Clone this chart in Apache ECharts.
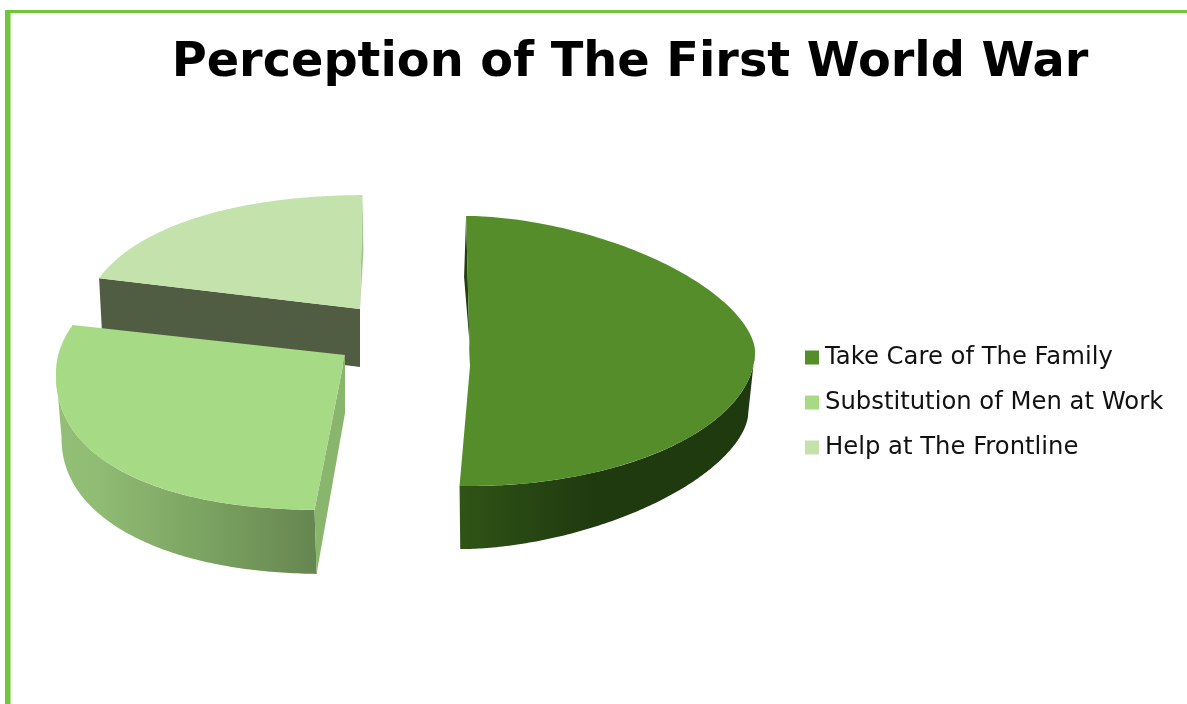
<!DOCTYPE html>
<html>
<head>
<meta charset="utf-8">
<style>html,body{margin:0;padding:0;background:#fff}#c{width:1187px;height:704px}</style>
<script src="https://cdn.jsdelivr.net/npm/echarts@6/dist/echarts.min.js"></script>
</head>
<body>
<div id="c"></div>
<script>
const titleText = 'Perception of The First World War';
const categories = ['Take Care of The Family', 'Substitution of Men at Work', 'Help at The Frontline'];
const shares = [51, 30, 19];
const topColors = ['#558d2a', '#a6da85', '#c4e2ab'];

const START_DEG = -1.5;
const total = shares.reduce((a, b) => a + b, 0);
// pBack / pFront / pBottom: roundness of the rim behind, in front of, and under the slice
const layouts = [
  { cx: 470, cy: 351, rx: 285, ry: 135, ax: 470, ay: 366, depth: 63, z: 3, pBack: 1.7, pFront: 2, pBottom: 1.7,
    bdx: -4, bScale: 0.99,
    wall: [[0, '#203a10'], [0.55, '#203a10'], [1, '#2f5416']], reverse: true,
    cuts: [{ side: 'start', outer: 61, apex: -5, adx: 1, odx: -2, color: '#223f10' }] },
  { cx: 330, cy: 372.4, rx: 274, ry: 137.6, ax: 345, ay: 355, depth: 64, z: 2, pBack: 2, pFront: 2.3, pBottom: 2.2,
    bdx: 0, bScale: 0.98,
    wall: [[0, '#92be76'], [0.15, '#90bc74'], [0.55, '#7ca462'], [1, '#668650']], reverse: false,
    cuts: [{ side: 'start', outer: 64, apex: 58, adx: 0, odx: 2, color: '#8ab56c' }] },
  { cx: 373, cy: 329, rx: 290, ry: 134, ax: 360, ay: 309, depth: 57, z: 1, pBack: 2.2, pFront: 2, pBottom: 2,
    bdx: 0, bScale: 1,
    wall: null,
    cuts: [
      { side: 'start', outer: 56, apex: 58, adx: 0, odx: 3, color: '#505d42' },
      { side: 'end', outer: 57, apex: 0, adx: 0, odx: 1, color: '#a5c58f' }
    ] }
];

function sliceAngles(index) {
  let before = 0;
  for (let i = 0; i < index; i++) before += shares[i];
  return [START_DEG + before / total * 360, START_DEG + (before + shares[index]) / total * 360];
}

function renderSlice(index) {
  return function (params, api) {
    const value = api.value(0);
    const L = layouts[index];
    const a0 = sliceAngles(index)[0];
    const a1 = a0 + value / total * 360;
    const rad = d => d * Math.PI / 180;
    const pow = (v, e) => Math.sign(v) * Math.pow(Math.abs(v), e);
    const rim = d => {
      const s = Math.sin(rad(d)), c = Math.cos(rad(d));
      const p = c >= 0 ? L.pBack : L.pFront;
      return [L.cx + L.rx * pow(s, 2 / p), L.cy - L.ry * pow(c, 2 / p)];
    };
    const under = d => {
      const s = Math.sin(rad(d)), c = Math.cos(rad(d));
      const e = 2 / L.pBottom;
      return [L.cx + L.bdx + L.rx * L.bScale * pow(s, e), L.cy + L.depth - L.ry * pow(c, e)];
    };
    const children = [];

    const w0 = Math.max(a0, 90), w1 = Math.min(a1, 270);
    if (L.wall && w1 > w0) {
      const upper = [], lower = [];
      for (let i = 0; i <= 120; i++) {
        const d = w0 + (w1 - w0) * i / 120;
        upper.push(rim(d));
        lower.unshift(under(d));
      }
      children.push({
        type: 'polygon',
        shape: { points: upper.concat(lower) },
        style: {
          fill: new echarts.graphic.LinearGradient(L.reverse ? 1 : 0, 0, L.reverse ? 0 : 1, 0,
            L.wall.map(s => ({ offset: s[0], color: s[1] })))
        }
      });
    }

    L.cuts.forEach(c => {
      const outer = rim(c.side === 'start' ? a0 : a1);
      children.push({
        type: 'polygon',
        shape: { points: [
          outer,
          [outer[0] + c.odx, outer[1] + c.outer],
          [L.ax + c.adx, L.ay + c.apex],
          [L.ax, L.ay]
        ] },
        style: { fill: c.color }
      });
    });

    const top = [[L.ax, L.ay]];
    for (let i = 0; i <= 160; i++) top.push(rim(a0 + (a1 - a0) * i / 160));
    children.push({ type: 'polygon', shape: { points: top }, style: { fill: topColors[index] } });

    return { type: 'group', children };
  };
}

const chart = echarts.init(document.getElementById('c'), null, { renderer: 'canvas' });
chart.setOption({
  animation: false,
  backgroundColor: '#ffffff',
  title: {
    text: titleText, left: 625, top: 35, textAlign: 'center',
    textStyle: { fontFamily: 'DejaVu Sans', fontWeight: 'bold', fontSize: 47.8, color: '#000000' }
  },
  legend: {
    orient: 'vertical', left: 800, top: 339, itemWidth: 14, itemHeight: 14, itemGap: 18, icon: 'rect',
    selectedMode: false,
    textStyle: { fontFamily: 'DejaVu Sans', fontSize: 24.3, color: '#111111', lineHeight: 27, padding: [0, 0, 0, 1] },
    data: categories.map((name, i) => ({ name, icon: 'rect', itemStyle: { color: topColors[i] } }))
  },
  graphic: [
    { type: 'rect', shape: { x: 5, y: 10, width: 1182, height: 3 }, style: { fill: '#70c63a' } },
    { type: 'rect', shape: { x: 5, y: 10, width: 5.5, height: 694 }, style: { fill: '#70c63a' } }
  ],
  series: categories.map((name, i) => ({
    type: 'custom',
    name,
    coordinateSystem: 'none',
    z: layouts[i].z,
    silent: true,
    itemStyle: { color: topColors[i] },
    data: [[shares[i]]],
    encode: { value: 0 },
    renderItem: renderSlice(i)
  }))
});
</script>
</body>
</html>
